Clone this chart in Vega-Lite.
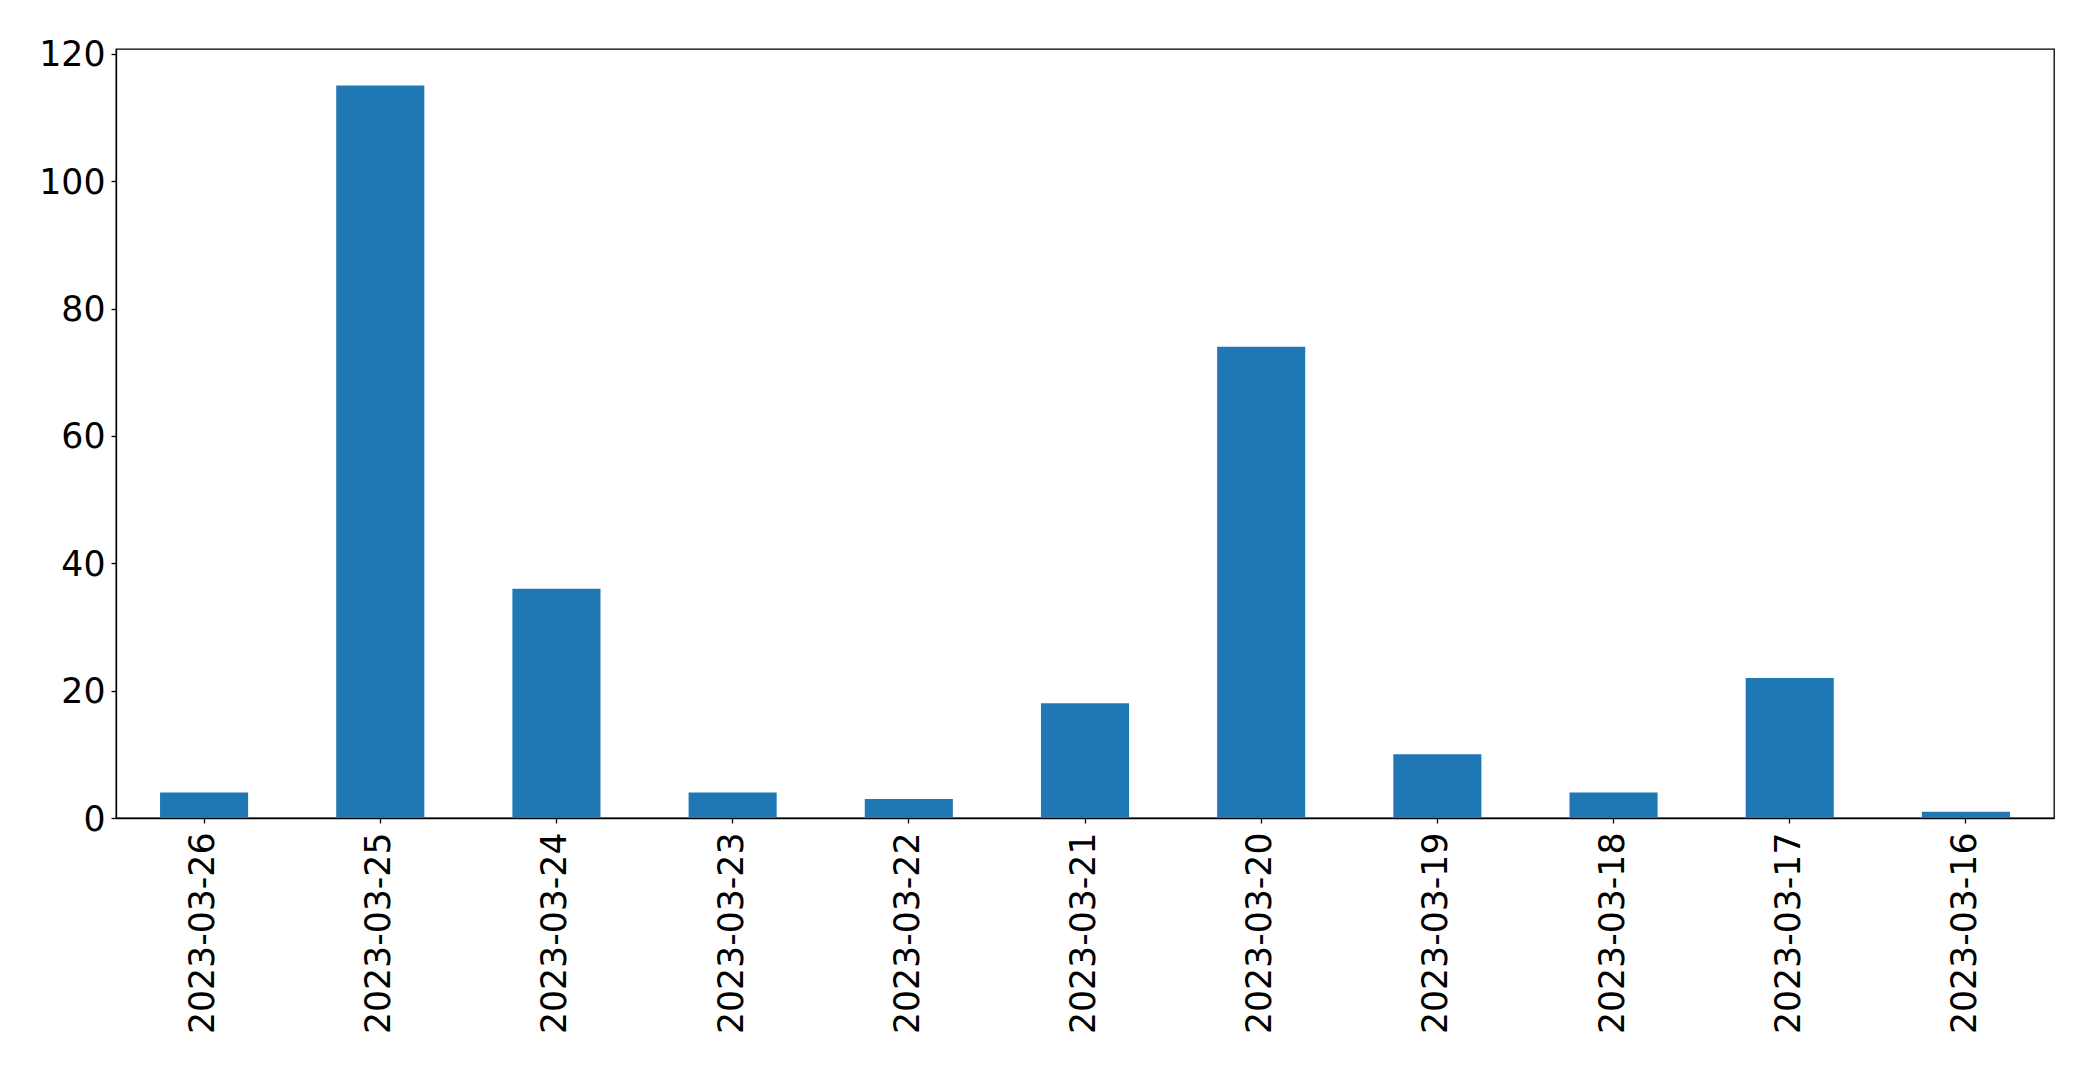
{
  "$schema": "https://vega.github.io/schema/vega-lite/v6.json",
  "autosize": "none",
  "width": 1938,
  "height": 769,
  "padding": {"left": 116, "top": 49, "right": 39, "bottom": 252},
  "background": "white",
  "config": {
    "view": {"stroke": "black", "strokeWidth": 1.3},
    "axis": {
      "domainColor": "black",
      "domainWidth": 1.3,
      "tickColor": "black",
      "tickWidth": 1.3,
      "tickSize": 5,
      "labelFont": "DejaVu Sans",
      "labelFontSize": 34.7,
      "labelColor": "black",
      "labelLimit": 0,
      "grid": false,
      "title": null
    }
  },
  "data": {
    "values": [
      {"date": "2023-03-26", "count": 4},
      {"date": "2023-03-25", "count": 115},
      {"date": "2023-03-24", "count": 36},
      {"date": "2023-03-23", "count": 4},
      {"date": "2023-03-22", "count": 3},
      {"date": "2023-03-21", "count": 18},
      {"date": "2023-03-20", "count": 74},
      {"date": "2023-03-19", "count": 10},
      {"date": "2023-03-18", "count": 4},
      {"date": "2023-03-17", "count": 22},
      {"date": "2023-03-16", "count": 1}
    ]
  },
  "mark": {"type": "bar", "color": "#1f77b4"},
  "encoding": {
    "x": {
      "field": "date",
      "type": "nominal",
      "sort": null,
      "scale": {"paddingInner": 0.5, "paddingOuter": 0.25},
      "axis": {"labelAngle": -90, "labelPadding": 9}
    },
    "y": {
      "field": "count",
      "type": "quantitative",
      "scale": {"domain": [0, 120.75], "nice": false},
      "axis": {"values": [0, 20, 40, 60, 80, 100, 120], "labelPadding": 6, "labelBaseline": "middle", "labelOffset": 2}
    }
  }
}
